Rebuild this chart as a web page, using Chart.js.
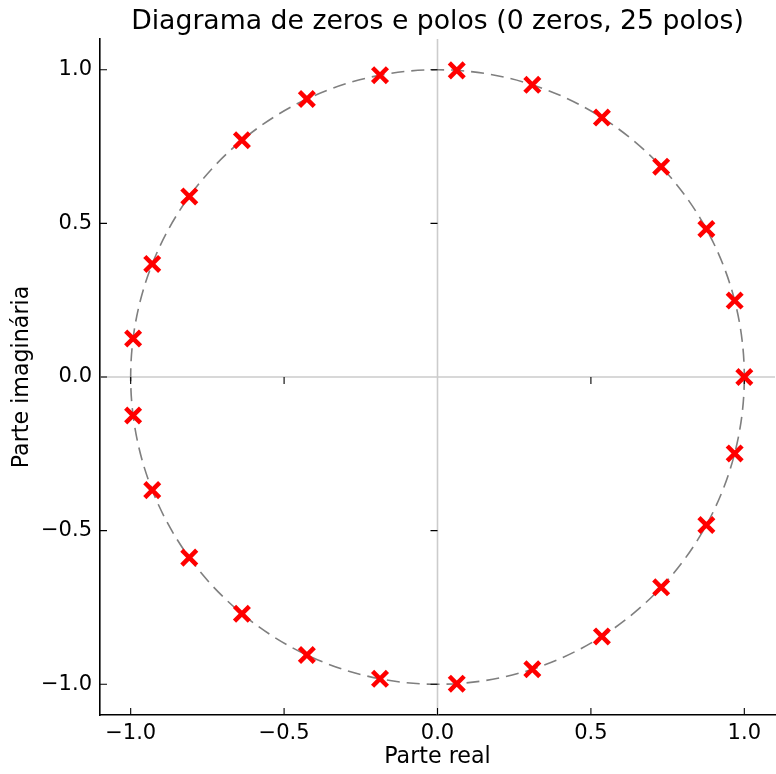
<!DOCTYPE html>
<html>
<head>
<meta charset="utf-8">
<script src="https://cdn.jsdelivr.net/npm/chart.js@4"></script>
<style>
  html, body { margin: 0; padding: 0; background: #ffffff; }
  #wrap { width: 776px; height: 774px; }
</style>
</head>
<body>
<div id="wrap"><canvas id="c" width="776" height="774"></canvas></div>
<script>
// ---- data ----
const chartTitle = 'Diagrama de zeros e polos (0 zeros, 25 polos)';
const xLabel = 'Parte real';
const yLabel = 'Parte imaginária';
const poleReal = [1.0000, 0.96858, 0.87631, 0.72897, 0.53583, 0.30902, 0.06279, -0.18738, -0.42578, -0.63742, -0.80902, -0.92978, -0.99211,
                  -0.99211, -0.92978, -0.80902, -0.63742, -0.42578, -0.18738, 0.06279, 0.30902, 0.53583, 0.72897, 0.87631, 0.96858];
const poleImag = [0.0000, 0.24869, 0.48175, 0.68455, 0.84433, 0.95106, 0.99803, 0.98229, 0.90483, 0.77051, 0.58779, 0.36812, 0.12533,
                  -0.12533, -0.36812, -0.58779, -0.77051, -0.90483, -0.98229, -0.99803, -0.95106, -0.84433, -0.68455, -0.48175, -0.24869];
const zeroReal = [];
const zeroImag = [];
const unitCircleCenter = [0, 0];
const unitCircleRadius = 1;
const xTickValues = [-1.0, -0.5, 0.0, 0.5, 1.0];
const yTickValues = [-1.0, -0.5, 0.0, 0.5, 1.0];
const xRange = [-1.1, 1.1];
const yRange = [-1.1, 1.1];

const FONT = "'DejaVu Sans', 'Liberation Sans', sans-serif";
const fmt = v => (Math.abs(v) < 1e-9 ? 0 : v).toFixed(1).replace('-', '\u2212');
const noPad = () => ({ left: 0, top: 0, right: 0, bottom: 0 });

const decor = {
  id: 'decor',
  beforeDatasetsDraw(chart) {
    const ctx = chart.ctx;
    const xs = chart.scales.x, ys = chart.scales.y;
    const ca = chart.chartArea;
    const x0 = xs.getPixelForValue(0), y0 = ys.getPixelForValue(0);
    ctx.save();
    // zero lines
    ctx.strokeStyle = '#cccccc';
    ctx.lineWidth = 1.6;
    ctx.beginPath();
    ctx.moveTo(ca.left, y0); ctx.lineTo(ca.right, y0);
    ctx.moveTo(x0, ca.top); ctx.lineTo(x0, ca.bottom);
    ctx.stroke();
    // unit circle
    const cx = xs.getPixelForValue(unitCircleCenter[0]);
    const cy = ys.getPixelForValue(unitCircleCenter[1]);
    const rx = xs.getPixelForValue(unitCircleCenter[0] + unitCircleRadius) - cx;
    const ry = cy - ys.getPixelForValue(unitCircleCenter[1] + unitCircleRadius);
    ctx.strokeStyle = '#7f7f7f';
    ctx.lineWidth = 1.6;
    ctx.setLineDash([13, 7]);
    ctx.beginPath();
    ctx.ellipse(cx, cy, rx, ry, 0, 0, Math.PI * 2);
    ctx.stroke();
    ctx.setLineDash([]);
    // ticks on zero lines
    ctx.strokeStyle = '#000000';
    ctx.lineWidth = 1.1;
    ctx.beginPath();
    xTickValues.forEach(v => {
      if (v === 0) return;
      const p = xs.getPixelForValue(v);
      ctx.moveTo(p, y0); ctx.lineTo(p, y0 + 7);
    });
    yTickValues.forEach(v => {
      if (v === 0) return;
      const p = ys.getPixelForValue(v);
      ctx.moveTo(x0 - 7, p); ctx.lineTo(x0, p);
    });
    // inward ticks on spines
    xTickValues.forEach(v => {
      const p = xs.getPixelForValue(v);
      ctx.moveTo(p, ca.bottom); ctx.lineTo(p, ca.bottom - 7);
    });
    yTickValues.forEach(v => {
      const p = ys.getPixelForValue(v);
      ctx.moveTo(ca.left, p); ctx.lineTo(ca.left + 7, p);
    });
    ctx.stroke();
    ctx.restore();
  }
};

const poles = poleReal.map((x, i) => ({ x: x, y: poleImag[i] }));
const zeros = zeroReal.map((x, i) => ({ x: x, y: zeroImag[i] }));

new Chart(document.getElementById('c'), {
  type: 'scatter',
  data: {
    datasets: [
      {
        label: 'Polos',
        data: poles,
        pointStyle: 'crossRot',
        pointRadius: 10.5,
        pointHoverRadius: 10.5,
        pointBorderWidth: 4.5,
        pointHoverBorderWidth: 4.5,
        borderColor: '#ff0000',
        backgroundColor: '#ff0000'
      },
      {
        label: 'Zeros',
        data: zeros,
        pointStyle: 'circle',
        pointRadius: 8,
        pointBorderWidth: 2,
        borderColor: '#0000ff',
        backgroundColor: 'rgba(0,0,0,0)'
      }
    ]
  },
  options: {
    responsive: false,
    animation: false,
    events: [],
    layout: { autoPadding: false, padding: { left: 0, right: 1, top: 0, bottom: 0 } },
    plugins: {
      legend: { display: false },
      tooltip: { enabled: false },
      title: {
        display: true,
        fullSize: false,
        text: chartTitle,
        color: '#000000',
        font: { family: FONT, size: 26.7, weight: 'normal', lineHeight: 1.2 },
        padding: { top: 6, bottom: 1 }
      }
    },
    scales: {
      x: {
        type: 'linear',
        position: 'bottom',
        min: xRange[0],
        max: xRange[1],
        afterBuildTicks: s => { s.ticks = xTickValues.map(v => ({ value: v })); },
        afterFit: s => { s.height = 59; s.paddingLeft = 0; s.paddingRight = 0; s.getPadding = noPad; },
        grid: { display: true, drawOnChartArea: false, drawTicks: false },
        border: { display: true, color: '#000000', width: 1.6 },
        ticks: {
          color: '#000000',
          padding: 6,
          maxRotation: 0,
          font: { family: FONT, size: 21 },
          callback: v => fmt(v)
        },
        title: {
          display: true,
          text: xLabel,
          color: '#000000',
          font: { family: FONT, size: 22.2, lineHeight: 1.2 },
          padding: { top: 0, bottom: 3 }
        }
      },
      y: {
        type: 'linear',
        position: 'left',
        min: yRange[0],
        max: yRange[1],
        afterBuildTicks: s => { s.ticks = yTickValues.map(v => ({ value: v })); },
        afterFit: s => { s.width = 100; s.paddingTop = 0; s.paddingBottom = 0; s.getPadding = noPad; },
        grid: { display: true, drawOnChartArea: false, drawTicks: false },
        border: { display: true, color: '#000000', width: 1.6 },
        ticks: {
          color: '#000000',
          padding: 8,
          font: { family: FONT, size: 21 },
          callback: v => fmt(v)
        },
        title: {
          display: true,
          text: yLabel,
          color: '#000000',
          font: { family: FONT, size: 22.2, lineHeight: 1.2 },
          padding: { top: 9, bottom: 0 }
        }
      }
    }
  },
  plugins: [decor]
});
</script>
</body>
</html>
